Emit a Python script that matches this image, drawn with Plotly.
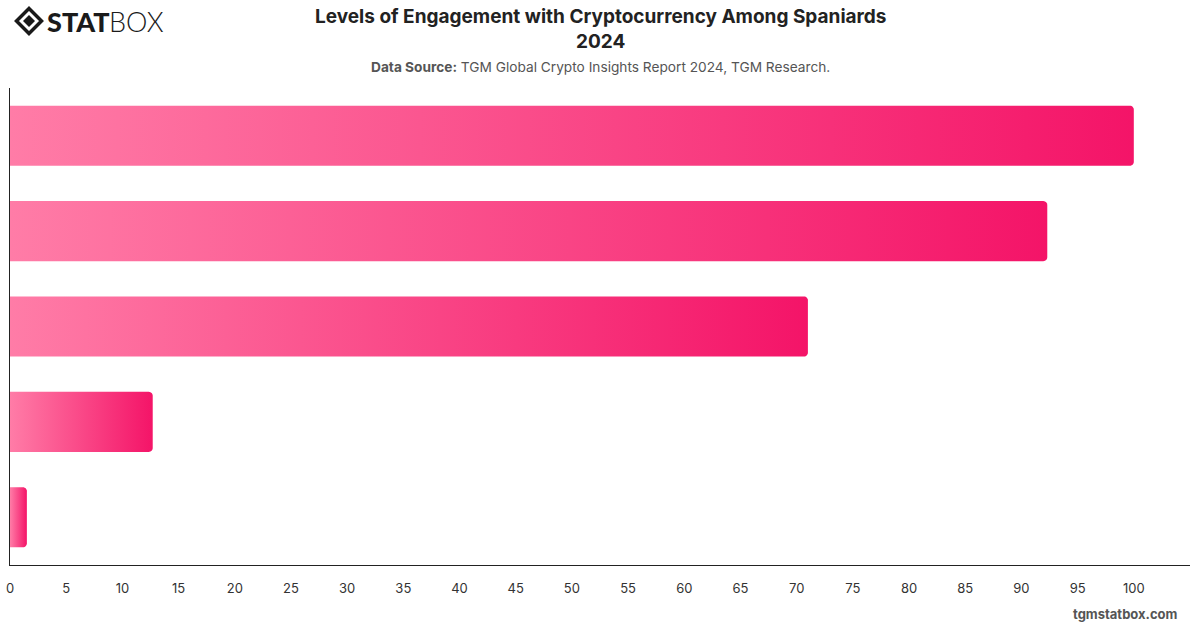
import numpy as np
import plotly.graph_objects as go

# ---- data ----
categories = [
    "Heard of cryptocurrency",
    "Know what cryptocurrency is",
    "Considered investing",
    "Currently own cryptocurrency",
    "Use crypto for payments",
]
values = [100, 92.3, 71.0, 12.7, 1.5]
tick_values = list(range(0, 101, 5))

# ---- layout geometry (pixels) ----
W, H = 1200, 628
ML, MR, MT, MB = 10, 10, 88, 63
X_MAX = 105
BAR_W = 0.63
LIGHT = "rgb(255,124,167)"
DARK = "rgb(244,20,104)"

px_per_x = (W - ML - MR) / X_MAX
px_per_y = (H - MT - MB) / len(categories)


def bar_path(v, yc, r_px=4):
    """Polygon (rounded on the right end) for a horizontal bar of value v at row yc."""
    half = BAR_W / 2
    rx = min(r_px / px_per_x, v / 2)
    ry = r_px / px_per_y
    xs, ys = [0, v - rx], [yc - half, yc - half]
    t = np.linspace(-np.pi / 2, 0, 8)
    xs += list(v - rx + rx * np.cos(t)); ys += list(yc - half + ry + ry * np.sin(t))
    t = np.linspace(0, np.pi / 2, 8)
    xs += list(v - rx + rx * np.cos(t)); ys += list(yc + half - ry + ry * np.sin(t))
    xs += [v - rx, 0, 0]; ys += [yc + half, yc + half, yc - half]
    return xs, ys


fig = go.Figure()
for i, (cat, v) in enumerate(zip(categories, values)):
    xs, ys = bar_path(v, i)
    fig.add_trace(go.Scatter(
        x=xs, y=ys, mode="none", fill="toself", name=cat,
        fillgradient=dict(type="horizontal", colorscale=[[0, LIGHT], [1, DARK]]),
        hoverinfo="skip", showlegend=False,
    ))

fig.update_xaxes(
    range=[0, X_MAX], tickvals=tick_values, ticktext=[str(t) for t in tick_values],
    showgrid=False, zeroline=False, showline=True, linecolor="#222", linewidth=1,
    ticks="", ticklabelstandoff=11, tickfont=dict(size=13, color="#333", family="Inter"),
    fixedrange=True, automargin=False,
)
fig.update_yaxes(
    range=[len(categories) - 0.5, -0.5], tickvals=list(range(len(categories))),
    ticktext=categories, showticklabels=False, showgrid=False, zeroline=False,
    showline=True, linecolor="#222", linewidth=1, ticks="", fixedrange=True,
    automargin=False,
)


def pxx(p):
    return (p - ML) / (W - ML - MR)


def pxy(p):
    return (H - MB - p) / (H - MT - MB)


# logo icon: outer diamond outline + inner filled diamond
cx, cy = 29, 21
for s, fill, lw in [(12.5, "rgba(0,0,0,0)", 3.5), (6, "#1a1a1a", 0)]:
    path = "M {} {} L {} {} L {} {} L {} {} Z".format(
        pxx(cx - s), pxy(cy), pxx(cx), pxy(cy - s), pxx(cx + s), pxy(cy), pxx(cx), pxy(cy + s))
    fig.add_shape(type="path", path=path, xref="paper", yref="paper",
                  line=dict(color="#1a1a1a", width=lw), fillcolor=fill)

fig.add_annotation(
    x=pxx(45), y=pxy(21), xref="paper", yref="paper", xanchor="left", yanchor="middle",
    text="STAT", showarrow=False,
    font=dict(family="Lato", size=27, color="#1a1a1a", weight=900),
)
fig.add_annotation(
    x=pxx(166), y=pxy(21), xref="paper", yref="paper", xanchor="right", yanchor="middle",
    text="BOX", showarrow=False,
    font=dict(family="Lato", size=27, color="#1a1a1a", weight=300),
)

fig.add_annotation(
    x=0.5, xref="paper", y=pxy(29), yref="paper", xanchor="center", yanchor="middle",
    text="<b>Levels of Engagement with Cryptocurrency Among Spaniards<br>2024</b>",
    showarrow=False, font=dict(family="Inter", size=19, color="#222"),
)
fig.add_annotation(
    x=0.5, xref="paper", y=pxy(67), yref="paper", xanchor="center", yanchor="middle",
    text="<b>Data Source:</b> TGM Global Crypto Insights Report 2024, TGM Research.",
    showarrow=False, font=dict(family="Inter", size=13.7, color="#555"),
)
fig.add_annotation(
    x=pxx(1180), xref="paper", y=pxy(614), yref="paper", xanchor="right", yanchor="middle",
    text="<b>tgmstatbox.com</b>", showarrow=False,
    font=dict(family="Inter", size=13, color="#555"),
)

fig.update_layout(
    width=W, height=H, margin=dict(l=ML, r=MR, t=MT, b=MB, autoexpand=False),
    paper_bgcolor="white", plot_bgcolor="white", showlegend=False,
)

fig.write_html("out.html")
